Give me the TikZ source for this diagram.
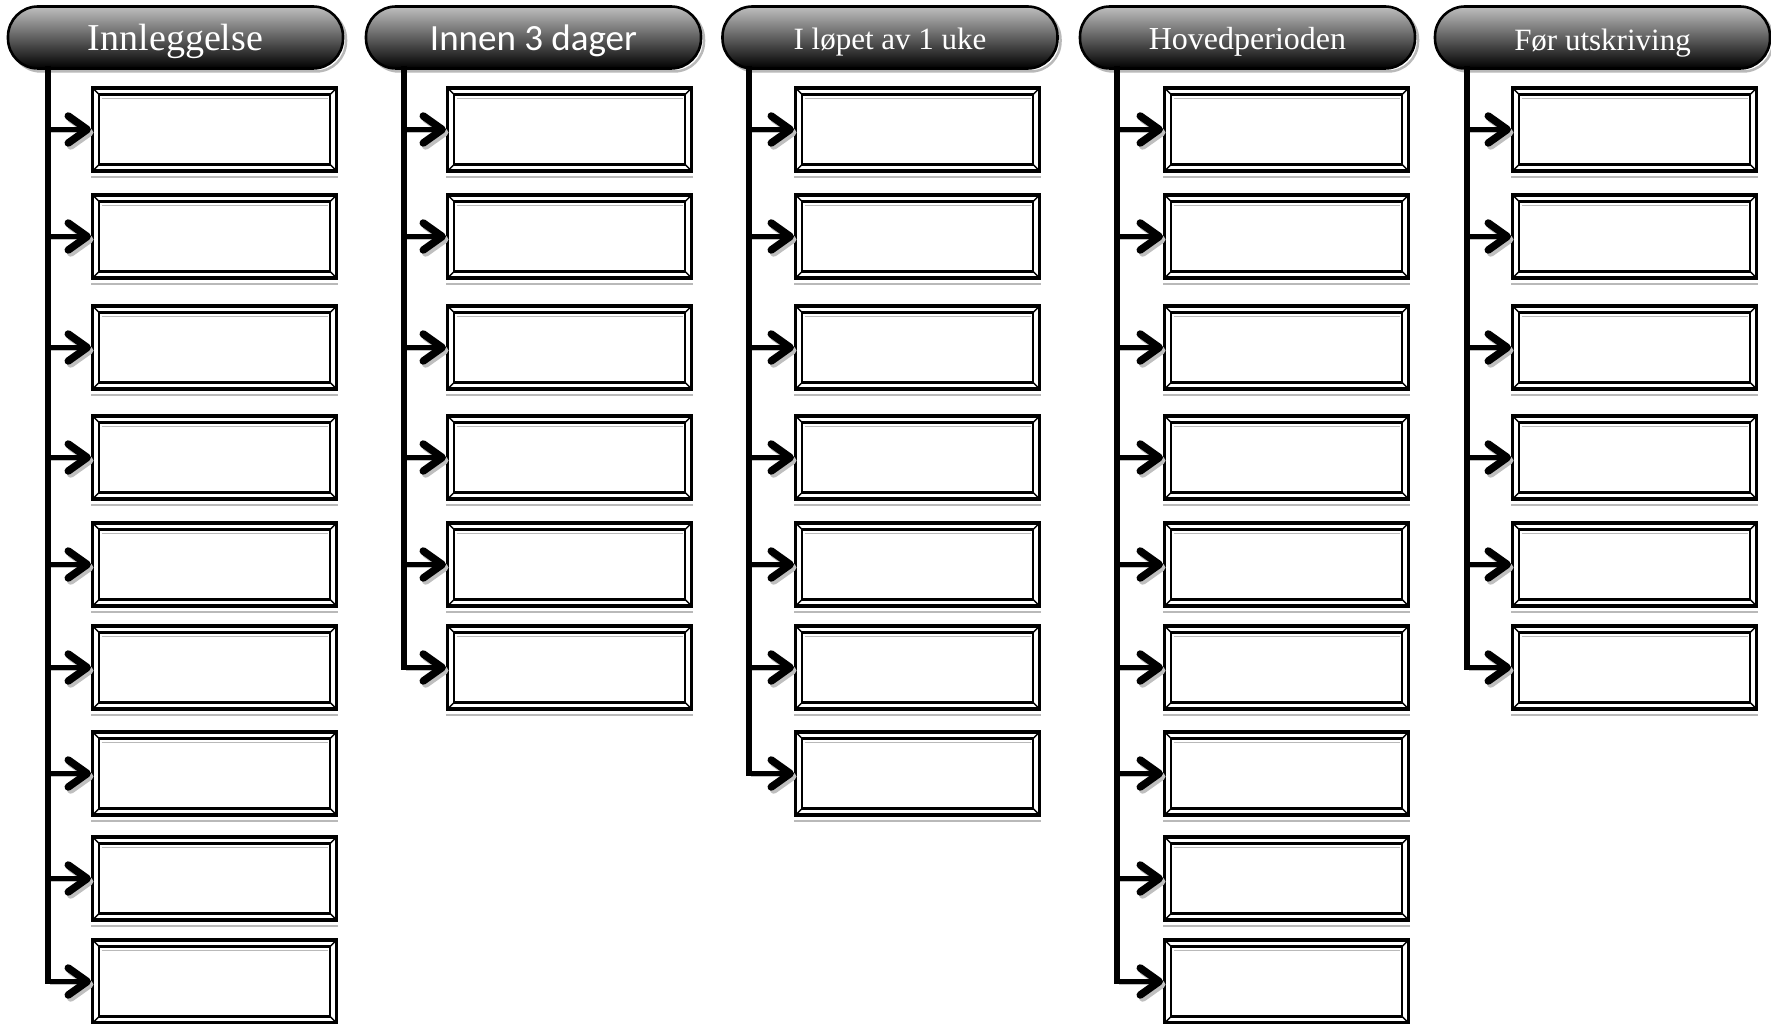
\documentclass[tikz,border=0pt]{standalone}
\usepackage{fontspec}
\setmainfont{Liberation Serif}
\newfontfamily\headsans{Carlito}
\usetikzlibrary{arrows.meta}
\begin{document}
\begin{tikzpicture}[x=1pt,y=-1pt,
  pill/.style={rectangle, rounded corners=30pt, minimum width=335pt,
    minimum height=62pt, draw=black, line width=2.6pt,
    top color=black!25, middle color=black!60, bottom color=black,
    preaction={draw=gray!55, line width=2.5pt, transform canvas={shift={(3pt,-3pt)}}}},
  headtext/.style={text=white, anchor=base, inner sep=0pt},
  bevel/.style={rectangle, draw=black, line width=3.2pt, fill=white,
    minimum width=244pt, minimum height=83pt, inner sep=0pt,
    path picture={
      \draw[line width=2.6pt]
        ([shift={(6.5pt,6.5pt)}]path picture bounding box.south west) rectangle
        ([shift={(-6.5pt,-6.5pt)}]path picture bounding box.north east);
      \draw[line width=1.4pt]
        (path picture bounding box.south west) -- ++(6.5pt,6.5pt)
        (path picture bounding box.south east) -- ++(-6.5pt,6.5pt)
        (path picture bounding box.north west) -- ++(6.5pt,-6.5pt)
        (path picture bounding box.north east) -- ++(-6.5pt,-6.5pt);
      \draw[gray!55, line width=1.4pt]
        ([shift={(9pt,-10.5pt)}]path picture bounding box.north west) --
        ([shift={(-9pt,-10.5pt)}]path picture bounding box.north east);
    }},
  boxshadow/.style={gray!55, line width=1.8pt},
  branch/.style={line width=5.5pt, line join=miter,
    -{Straight Barb[length=19pt, width=27pt, line width=7.5pt, line cap=round, line join=round]},
    preaction={draw=gray!50, transform canvas={shift={(2.5pt,-3pt)}}}},
]
\useasboundingbox (0,0) rectangle (1771,1024);

% column headers
\node[pill] (h1) at (175.5,37.5) {};
\node[pill] (h2) at (533.5,37.5) {};
\node[pill] (h3) at (890,37.5) {};
\node[pill] (h4) at (1247.5,37.5) {};
\node[pill] (h5) at (1602.5,37.5) {};

\node[headtext, font=\fontsize{38}{40}\selectfont] (t1) at (175.5,51) {Innleggelse};
\node[headtext, font=\headsans\fontsize{37}{40}\selectfont] (t2) at (533.5,51) {Innen 3 dager};
\node[headtext, font=\fontsize{31}{34}\selectfont] (t3) at (890,50) {I løpet av 1 uke};
\node[headtext, font=\fontsize{32}{34}\selectfont] (t4) at (1247.5,50) {Hovedperioden};
\node[headtext, font=\fontsize{31}{34}\selectfont] (t5) at (1602.5,51) {Før utskriving};

% trunk tops under each header
\coordinate (k1) at (48,66);
\coordinate (k2) at (404,66);
\coordinate (k3) at (749,66);
\coordinate (k4) at (1117,66);
\coordinate (k5) at (1467,66);

% columns of framed boxes with their branch arrows
\foreach \c/\bx/\n in {1/91/9, 2/446/6, 3/794/7, 4/1163/9, 5/1511/6} {
  \foreach \r/\y in {1/129.5, 2/236.5, 3/347.5, 4/457.5, 5/564.5,
                     6/667.5, 7/773.5, 8/878.5, 9/981.5} {
    \ifnum\r>\n\relax\else
      \node[bevel, anchor=west] (b\c-\r) at (\bx,\y) {};
      \draw[boxshadow] ([yshift=-4.5pt]b\c-\r.south west) -- ([yshift=-4.5pt]b\c-\r.south east);
      \ifnum\r<\n\relax
        \draw[branch] (k\c |- b\c-\r.west) -- (b\c-\r.west);
      \fi
    \fi
  }
  \draw[branch] (k\c) |- (b\c-\n.west);
}
\end{tikzpicture}
\end{document}
